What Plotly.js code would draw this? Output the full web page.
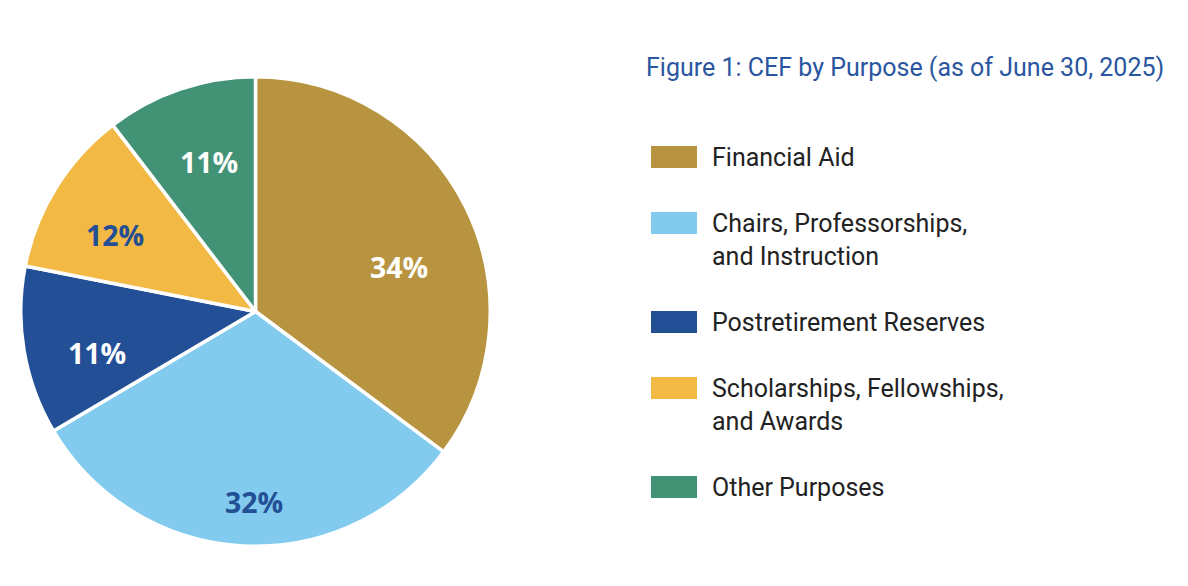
<!DOCTYPE html>
<html>
<head>
<meta charset="utf-8">
<script src="https://cdn.plot.ly/plotly-3.0.1.min.js"></script>
<style>
  html, body { margin: 0; padding: 0; background: #ffffff; }
  #chart { width: 1188px; height: 586px; }
</style>
</head>
<body>
<div id="chart"></div>
<script>
// ---- Data ----
const categories = [
  "Financial Aid",
  "Chairs, Professorships,<br>and Instruction",
  "Postretirement Reserves",
  "Scholarships, Fellowships,<br>and Awards",
  "Other Purposes"
];
// slice sizes as drawn in the picture (share of the circle, %)
const sliceValues = [35.2, 31.3, 11.6, 11.5, 10.4];
// percentage labels printed on the slices
const pctLabels = ["34%", "32%", "11%", "12%", "11%"];
const chartTitle = "Figure 1: CEF by Purpose (as of June 30, 2025)";

// ---- Styles ----
const sliceColors = ["#b89441", "#82cbef", "#234f96", "#f2b944", "#429276"];
const labelColors = ["#ffffff", "#234f96", "#ffffff", "#234f96", "#ffffff"];
// label placement inside each slice: radial fraction and angle nudge (deg)
const labelRadiusFrac = [0.643, 0.818, 0.703, 0.688, 0.671];
const labelAngleNudge = [9.3, -2.5, -5.0, -3.4, 1.6];

// ---- Layout geometry ----
const W = 1188, H = 586;
const cx = 255.5, cy = 311.5, R = 234.75, Rvis = 233;
const px2x = p => p / W;
const px2y = p => 1 - p / H;

const trace = {
  type: "pie",
  labels: categories,
  values: sliceValues,
  text: pctLabels,
  textinfo: "none",
  sort: false,
  direction: "clockwise",
  rotation: 0,
  hoverinfo: "label+text",
  marker: { colors: sliceColors, line: { color: "#ffffff", width: 3.5 } },
  domain: { x: [px2x(cx - R), px2x(cx + R)], y: [px2y(cy + R), px2y(cy - R)] },
  showlegend: false
};

const shapes = [];
const annotations = [];

// slice labels, placed from the slice angles computed from the values
const total = sliceValues.reduce((a, b) => a + b, 0);
let cum = 0;
sliceValues.forEach((v, i) => {
  const mid = (cum + v / 2) / total * 360 + labelAngleNudge[i];
  cum += v;
  const a = mid * Math.PI / 180;
  const r = labelRadiusFrac[i] * Rvis;
  annotations.push({
    xref: "paper", yref: "paper",
    x: px2x(cx + r * Math.sin(a)), y: px2y(cy - r * Math.cos(a)),
    xanchor: "center", yanchor: "middle",
    text: "<b>" + pctLabels[i] + "</b>", showarrow: false,
    font: { family: "Open Sans, sans-serif", size: 28.5, color: labelColors[i] }
  });
});

// custom legend: swatches + text lines
const legendX = 651, swW = 46, swH = 22, textX = 710;
const firstLineY = 157, lineStep = 33;
let lineIdx = 0;
categories.forEach((cat, i) => {
  const lines = cat.split("<br>");
  const yTop = firstLineY + lineIdx * lineStep;
  shapes.push({
    type: "rect", xref: "paper", yref: "paper",
    x0: px2x(legendX), x1: px2x(legendX + swW),
    y0: px2y(yTop - swH / 2), y1: px2y(yTop + swH / 2),
    fillcolor: sliceColors[i], line: { width: 0 }
  });
  lines.forEach((ln, j) => {
    annotations.push({
      xref: "paper", yref: "paper",
      x: px2x(textX), y: px2y(yTop + j * lineStep),
      xanchor: "left", yanchor: "middle",
      text: ln, showarrow: false,
      font: { family: "Roboto, sans-serif", size: 25, color: "#222222" }
    });
  });
  lineIdx += lines.length + 1;
});

annotations.push({
  xref: "paper", yref: "paper",
  x: px2x(644), y: px2y(68),
  xanchor: "left", yanchor: "middle",
  text: chartTitle, showarrow: false,
  font: { family: "Roboto, sans-serif", size: 25, color: "#2a56a0" }
});

const layout = {
  width: W, height: H,
  margin: { l: 0, r: 0, t: 0, b: 0 },
  paper_bgcolor: "#ffffff",
  plot_bgcolor: "#ffffff",
  showlegend: false,
  shapes: shapes,
  annotations: annotations
};

Plotly.newPlot("chart", [trace], layout, { displayModeBar: false, staticPlot: true });
</script>
</body>
</html>
